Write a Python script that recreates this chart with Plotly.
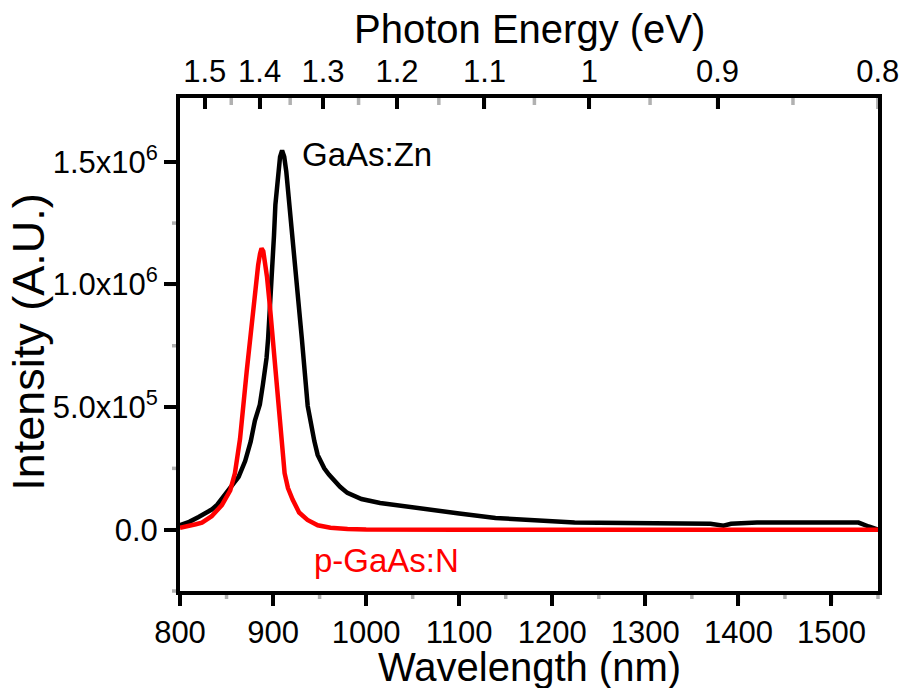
import plotly.graph_objects as go

# ---- data ----
WL_ZN = [800, 810, 820, 827, 834, 840, 846, 852, 857, 863, 870, 876, 880.5, 885.8, 889, 891.5,
         893, 894.7, 897, 899, 901, 902.5, 905.3, 907.5, 909.7, 912, 914.2, 917.7, 921, 924.8,
         930.9, 937.2, 941, 944.4, 947.9, 951.4, 955, 960, 965.6, 972, 979.8, 995, 1015, 1040,
         1068, 1100, 1139, 1180, 1224, 1250, 1300, 1350, 1370, 1384, 1392, 1420, 1450, 1500,
         1529, 1540, 1547, 1550]
I_ZN = [1.8e4, 3.2e4, 5.2e4, 6.6e4, 8.2e4, 1.02e5, 1.3e5, 1.65e5, 1.85e5, 2.15e5, 2.8e5,
        3.6e5, 4.45e5, 5.1e5, 5.9e5, 6.5e5, 7.0e5, 7.8e5, 9.1e5, 1.05e6, 1.2e6, 1.325e6,
        1.46e6, 1.52e6, 1.546e6, 1.52e6, 1.46e6, 1.325e6, 1.19e6, 1.05e6, 7.8e5, 5.05e5, 4.2e5,
        3.6e5, 3.05e5, 2.75e5, 2.5e5, 2.25e5, 2.0e5, 1.75e5, 1.5e5, 1.25e5, 1.09e5, 9.5e4,
        8.2e4, 6.6e4, 4.8e4, 3.7e4, 2.9e4, 2.8e4, 2.8e4, 2.7e4, 2.4e4, 1.6e4, 2.4e4, 2.9e4,
        3.0e4, 3.0e4, 2.9e4, 1.3e4, 4e3, 0]

WL_N = [800, 812, 817, 823.6, 834, 845, 848.6, 854, 859, 864.5, 871.6, 878.7, 882, 884, 886,
        887.6, 889.5, 891, 893.5, 896.5, 902.5, 908.2, 912.4, 916, 921, 928, 937, 948, 961.7,
        980, 1000, 1100, 1200, 1300, 1400, 1500, 1550]
I_N = [8e3, 1.6e4, 2.2e4, 2.9e4, 5.5e4, 1.0e5, 1.23e5, 1.6e5, 2.3e5, 3.7e5, 6.43e5, 9.15e5,
       1.03e6, 1.08e6, 1.125e6, 1.147e6, 1.135e6, 1.1e6, 1.03e6, 9.15e5, 6.43e5, 3.7e5, 2.3e5,
       1.7e5, 1.23e5, 7e4, 4e4, 1.8e4, 8e3, 3e3, 1e3, 0, 0, 0, 0, 0, 0]

X_MAJOR = [800, 900, 1000, 1100, 1200, 1300, 1400, 1500]
X_MINOR = [850, 950, 1050, 1150, 1250, 1350, 1450, 1550]
Y_TICKS = [0, 5e5, 1e6, 1.5e6]
Y_TICK_TEXT = ["0.0", "5.0x10<sup>5</sup>", "1.0x10<sup>6</sup>", "1.5x10<sup>6</sup>"]
Y_MINOR = [-2.5e5, 2.5e5, 7.5e5, 1.25e6]

E_TICKS = [1.5, 1.4, 1.3, 1.2, 1.1, 1.0, 0.9, 0.8]
E_TICK_TEXT = ["1.5", "1.4", "1.3", "1.2", "1.1", "1", "0.9", "0.8"]
E_MINOR = [1.45, 1.35, 1.25, 1.15, 1.05, 0.95, 0.85]
HC = 1239.84  # eV*nm

FONT = "Liberation Sans, Arial, Helvetica, sans-serif"
XR = [800, 1550]
YR = [-2.5e5, 1.76e6]
W, H = 911, 688
ML, MR, MT, MB = 180, 25, 98, 97
TICK_W = 3.5


def xfrac(v):
    return (v - XR[0]) / (XR[1] - XR[0])


def yfrac(v):
    return (v - YR[0]) / (YR[1] - YR[0])


fig = go.Figure()
fig.add_trace(go.Scatter(x=WL_ZN, y=I_ZN, mode="lines", line=dict(color="#000000", width=4.5),
                         showlegend=False, hoverinfo="skip"))
fig.add_trace(go.Scatter(x=WL_N, y=I_N, mode="lines", line=dict(color="#FF0000", width=4.5),
                         showlegend=False, hoverinfo="skip"))
# invisible trace so the top (energy) axis is attached
fig.add_trace(go.Scatter(x=WL_ZN, y=I_ZN, xaxis="x2", mode="lines",
                         line=dict(color="rgba(0,0,0,0)", width=0),
                         showlegend=False, hoverinfo="skip"))

base = dict(showgrid=False, zeroline=False, tickcolor="black", tickwidth=TICK_W,
            showline=True, linewidth=4, linecolor="black",
            tickfont=dict(family=FONT, size=31, color="black"))

# tick marks as pixel-sized shapes in paper coordinates (not clipped to the plot area)
shapes = []
tick_line = dict(color="black", width=TICK_W)
for v, ln in [(v, 12) for v in X_MAJOR] + [(v, 8) for v in X_MINOR]:
    shapes.append(dict(type="line", xref="paper", yref="paper", ysizemode="pixel", yanchor=0,
                       x0=xfrac(v), x1=xfrac(v), y0=0, y1=-ln, line=tick_line, layer="above"))
for v, ln in [(HC / e, 11) for e in E_TICKS] + [(HC / e, 7) for e in E_MINOR]:
    shapes.append(dict(type="line", xref="paper", yref="paper", ysizemode="pixel", yanchor=1,
                       x0=xfrac(v), x1=xfrac(v), y0=0, y1=-ln, line=tick_line, layer="above"))
for v, ln in [(v, 13) for v in Y_TICKS] + [(v, 8) for v in Y_MINOR]:
    shapes.append(dict(type="line", xref="paper", yref="paper", xsizemode="pixel", xanchor=0,
                       x0=0, x1=-ln, y0=yfrac(v), y1=yfrac(v), line=tick_line, layer="above"))

fig.update_layout(
    template="simple_white",
    width=W, height=H, autosize=False,
    margin=dict(l=ML, r=MR, t=MT, b=MB, pad=0),
    plot_bgcolor="white", paper_bgcolor="white",
    font=dict(family=FONT, color="black"),
    xaxis=dict(range=XR, tickmode="array", tickvals=X_MAJOR, ticks="outside", ticklen=11,
               mirror=False, **base),
    xaxis2=dict(range=XR, overlaying="x", side="top", anchor="y", tickmode="array",
                tickvals=[HC / e for e in E_TICKS], ticktext=E_TICK_TEXT,
                ticks="inside", ticklen=11, **base),
    yaxis=dict(range=YR, tickmode="array", tickvals=Y_TICKS, ticktext=Y_TICK_TEXT,
               ticks="outside", ticklen=12, mirror=True, **base),
    shapes=shapes,
    annotations=[
        dict(text="Photon Energy (eV)", xref="paper", yref="paper", x=0.5, y=1.14,
             xanchor="center", yanchor="middle", showarrow=False,
             font=dict(family=FONT, size=40, color="black")),
        dict(text="Wavelength (nm)", xref="paper", yref="paper", x=0.5, y=-0.154,
             xanchor="center", yanchor="middle", showarrow=False,
             font=dict(family=FONT, size=40, color="black")),
        dict(text="Intensity (A.U.)", xref="paper", yref="paper", x=-0.218, y=0.505,
             xanchor="center", yanchor="middle", showarrow=False, textangle=-90,
             font=dict(family=FONT, size=45, color="black")),
        dict(text="GaAs:Zn", xref="x", yref="y", x=928.5, y=1.53e6,
             xanchor="left", yanchor="middle", showarrow=False,
             font=dict(family=FONT, size=33, color="black")),
        dict(text="p-GaAs:N", xref="x", yref="y", x=942.0, y=-1.27e5,
             xanchor="left", yanchor="middle", showarrow=False,
             font=dict(family=FONT, size=33, color="#FF0000")),
    ],
)

fig.write_html("out.html")
